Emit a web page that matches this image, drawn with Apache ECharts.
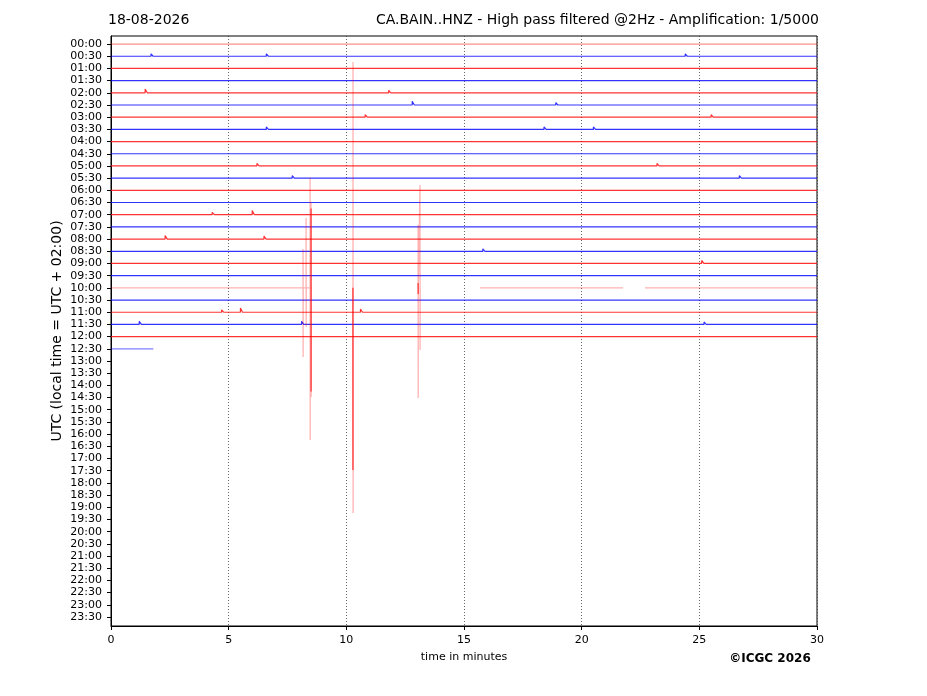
<!DOCTYPE html>
<html>
<head>
<meta charset="utf-8">
<script src="https://cdn.jsdelivr.net/npm/echarts@6/dist/echarts.min.js"></script>
<style>html,body{margin:0;padding:0;background:#fff}#c{width:927px;height:696px}</style>
</head>
<body>
<div id="c"></div>
<script>
// ---- data ----
const timeLabels = ['00:00','00:30','01:00','01:30','02:00','02:30','03:00','03:30','04:00','04:30',
  '05:00','05:30','06:00','06:30','07:00','07:30','08:00','08:30','09:00','09:30',
  '10:00','10:30','11:00','11:30','12:00','12:30','13:00','13:30','14:00','14:30',
  '15:00','15:30','16:00','16:30','17:00','17:30','18:00','18:30','19:00','19:30',
  '20:00','20:30','21:00','21:30','22:00','22:30','23:00','23:30'];
const xTicks = [0, 5, 10, 15, 20, 25, 30];
// minute at which each recorded trace ends (rows 0..25)
const traceEndMinutes = [30,30,30,30,30,30,30,30,30,30,30,30,30,30,30,30,30,30,30,30,30,30,30,30,30,1.8];
// small visible blips: [row, minute, peak offset in rows]
const blips = [
  [1, 1.7, -0.2], [1, 6.6, -0.2], [1, 24.4, -0.2],
  [4, 1.45, -0.3], [4, 11.8, -0.2],
  [5, 12.8, -0.3], [5, 18.9, -0.2],
  [6, 10.8, -0.2], [6, 25.5, -0.2],
  [7, 6.6, -0.2], [7, 18.4, -0.2], [7, 20.5, -0.2],
  [10, 6.2, -0.2], [10, 23.2, -0.2],
  [11, 7.7, -0.2], [11, 26.7, -0.2],
  [14, 6.0, -0.35], [14, 4.3, -0.2],
  [16, 2.3, -0.3], [16, 6.5, -0.25],
  [17, 15.8, -0.2],
  [18, 25.1, -0.25],
  [22, 5.5, -0.35], [22, 10.6, -0.25], [22, 4.7, -0.2],
  [23, 1.2, -0.25], [23, 8.1, -0.25], [23, 25.2, -0.2]
];
// 10:00 trace (row 20): recorded pieces [from minute, to minute]
const row20Segments = [[0, 8.16], [15.68, 21.76], [22.69, 30]];
// 10:00 trace excursions: [minute, successive extreme values in rows]
const row20Spikes = [
  [8.16, [16.82, 25.68]],
  [8.29, [14.27, 23.2]],
  [8.46, [10.99, 32.49]],
  [8.50, [12.96, 28.96]],
  [10.28, [34.95, 1.48, 38.47]],
  [13.05, [14.85, 29.04]],
  [13.13, [11.57, 25.1]]
];
// denser cores of the excursions: [minute, from row value, to row value]
const row20Cores = [[8.50, 13.5, 28.5], [10.28, 20, 34.95], [13.05, 19.6, 20.5]];
const row20Index = 20;

// ---- build series ----
const series = [];
traceEndMinutes.forEach((end, i) => {
  if (i === row20Index) return;
  const rowBlips = blips.filter(b => b[0] === i).sort((a, b) => a[1] - b[1]);
  const pts = [[0, i]];
  rowBlips.forEach(b => {
    if (b[1] > end) return;
    pts.push([b[1], i], [b[1], i + b[2]], [b[1] + 0.09, i]);
  });
  pts.push([end, i]);
  const red = i % 2 === 0;
  let op = 0.8;
  if (i === 0) op = 0.45;
  if (i === 25) op = 0.5;
  series.push({
    type: 'line', data: pts, showSymbol: false, symbol: 'none', silent: true, animation: false,
    lineStyle: { color: red ? '#ff0000' : '#0000ff', width: 1.2, opacity: op }
  });
});

// row 20
(function () {
  const r = row20Index;
  const pts = [];
  const spikePts = (s) => {
    const out = [[s[0], r]];
    s[1].forEach((v, k) => out.push([s[0] + k * 0.004, v]));
    out.push([s[0] + s[1].length * 0.004, r]);
    return out;
  };
  pts.push([row20Segments[0][0], r], [row20Segments[0][1], r]);
  row20Spikes.filter(s => s[0] < 9).forEach(s => pts.push(...spikePts(s)));
  pts.push([8.55, r], null);
  row20Spikes.filter(s => s[0] > 9 && s[0] < 12).forEach(s => pts.push(...spikePts(s)));
  pts.push(null);
  row20Spikes.filter(s => s[0] > 12).forEach(s => pts.push(...spikePts(s)));
  pts.push(null);
  row20Segments.slice(1).forEach(seg => { pts.push([seg[0], r], [seg[1], r], null); });
  series.push({
    type: 'line', data: pts, showSymbol: false, symbol: 'none', silent: true, animation: false,
    connectNulls: false,
    lineStyle: { color: '#ff0000', width: 1.3, opacity: 0.3 }
  });
  const core = [];
  row20Cores.forEach(c => core.push([c[0], c[1]], [c[0] + 0.002, c[2]], null));
  series.push({
    type: 'line', data: core, showSymbol: false, symbol: 'none', silent: true, animation: false,
    connectNulls: false,
    lineStyle: { color: '#ff0000', width: 1.2, opacity: 0.75 }
  });
})();

const chart = echarts.init(document.getElementById('c'), null, { renderer: 'canvas' });
const FONT = 'DejaVu Sans';
chart.setOption({
  animation: false,
  backgroundColor: '#fff',
  grid: { left: 111, right: 110, top: 36, bottom: 70, show: true, borderColor: '#000', borderWidth: 1, backgroundColor: 'transparent' },
  xAxis: {
    type: 'value', min: 0, max: 30, interval: 5,
    axisLine: { show: true, onZero: false, lineStyle: { color: '#000', width: 1 } },
    axisTick: { show: true, length: 4, lineStyle: { color: '#000' } },
    axisLabel: { color: '#000', fontFamily: FONT, fontSize: 11, margin: 9, formatter: v => xTicks.includes(v) ? String(v) : '' },
    splitLine: { show: true, lineStyle: { color: '#444', width: 0.8, type: [1, 2] } }
  },
  yAxis: {
    type: 'value', inverse: true, min: -0.66, max: 47.74,
    axisLine: { show: true, onZero: false, lineStyle: { color: '#000', width: 1 } },
    axisTick: { show: true, length: 4, customValues: timeLabels.map((_, i) => i), lineStyle: { color: '#000' } },
    axisLabel: { color: '#000', fontFamily: FONT, fontSize: 11, margin: 9,
      customValues: timeLabels.map((_, i) => i), formatter: v => timeLabels[Math.round(v)] },
    splitLine: { show: false }
  },
  series: series,
  graphic: [
    { type: 'text', left: 108, top: 13, style: { text: '18-08-2026', font: '14px "DejaVu Sans"', fill: '#000' } },
    { type: 'text', right: 108, top: 13, style: { text: 'CA.BAIN..HNZ - High pass filtered @2Hz - Amplification: 1/5000', font: '14px "DejaVu Sans"', fill: '#000' } },
    { type: 'text', x: 57, y: 331, rotation: Math.PI / 2, style: { text: 'UTC (local time = UTC + 02:00)', font: '14px "DejaVu Sans"', fill: '#000', align: 'center', verticalAlign: 'middle' } },
    { type: 'text', x: 464, y: 657, style: { text: 'time in minutes', font: '11px "DejaVu Sans"', fill: '#000', align: 'center', verticalAlign: 'middle' } },
    { type: 'text', x: 770, y: 659, style: { text: '©ICGC 2026', font: 'bold 12px "DejaVu Sans"', fill: '#000', align: 'center', verticalAlign: 'middle' } }
  ]
});
</script>
</body>
</html>
